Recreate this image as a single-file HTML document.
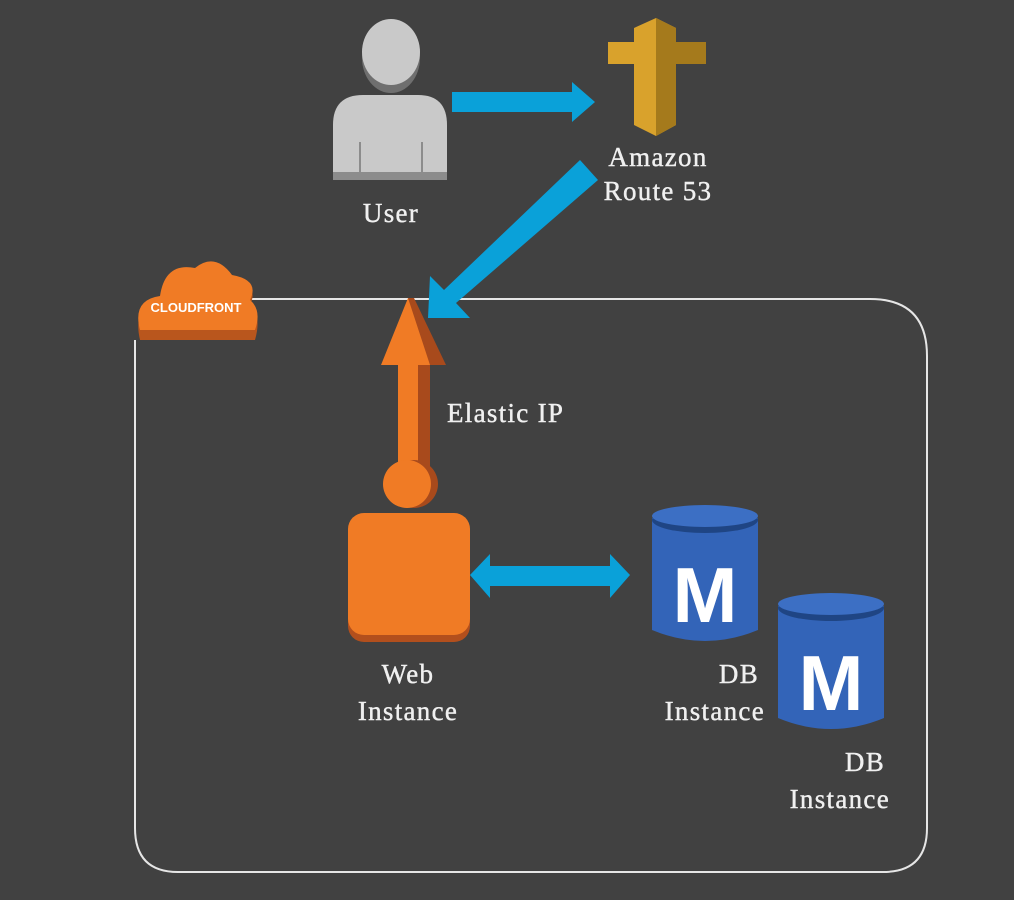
<!DOCTYPE html>
<html><head><style>html,body{margin:0;padding:0;background:#414141;}svg{display:block}</style></head>
<body>
<svg width="1014" height="900" viewBox="0 0 1014 900" xmlns="http://www.w3.org/2000/svg">
<rect width="1014" height="900" fill="#414141"/>
<path d="M180 299 H870 Q927 299 927 356 V828 Q927 872 883 872 H178 Q135 872 135 828 V340" fill="none" stroke="#e6e6e6" stroke-width="2"/>
<!-- user -->
<ellipse cx="391" cy="58" rx="29" ry="35" fill="#6f6f6f"/>
<ellipse cx="391" cy="52" rx="29" ry="33" fill="#c9c9c9"/>
<path d="M333 180 V125 Q333 95 363 95 H418 Q447 95 447 125 V180 Z" fill="#c9c9c9"/>
<rect x="333" y="172" width="114" height="8" fill="#8c8c8c"/>
<line x1="360" y1="142" x2="360" y2="180" stroke="#8c8c8c" stroke-width="2"/>
<line x1="422" y1="142" x2="422" y2="180" stroke="#8c8c8c" stroke-width="2"/>
<!-- route53 -->
<rect x="608" y="42" width="30" height="22" fill="#d9a22c"/>
<rect x="676" y="42" width="30" height="22" fill="#a57a1c"/>
<polygon points="634,28 656,18 676,28 676,125 656,136 634,125" fill="#d9a22c"/>
<polygon points="656,18 676,28 676,125 656,136" fill="#a57a1c"/>
<!-- blue arrows -->
<polygon points="452,92 572,92 572,82 595,102 572,122 572,112 452,112" fill="#0aa1d9"/>
<polygon points="580,160 598,180 456,303 470,318 428,318 430,276 444,290" fill="#0aa1d9"/>
<polygon points="470,575 490,554 490,566 610,566 610,554 630,575 610,598 610,586 490,586 490,598" fill="#0aa1d9"/>
<!-- orange elastic IP -->
<polygon points="408,298 414,298 446,365 430,365 430,470 415,470" fill="#a84a1c"/>
<polygon points="408,298 430,365 418,365 418,470 398,470 398,365 381,365" fill="#f07b25"/>
<circle cx="414" cy="484" r="24" fill="#a84a1c"/>
<circle cx="407" cy="484" r="24" fill="#f07b25"/>
<rect x="348" y="518" width="122" height="124" rx="16" fill="#b24f1d"/>
<rect x="348" y="513" width="122" height="122" rx="16" fill="#f07b25"/>
<!-- cloudfront -->
<g fill="#b9561d" transform="translate(0,5)">
<path d="M140 335 Q132 300 160 296 Q165 262 195 268 Q215 252 232 275 Q260 280 250 300 Q262 310 255 335 Z"/></g>
<path d="M140 330 Q132 300 160 296 Q165 262 195 268 Q215 252 232 275 Q260 280 250 300 Q262 310 255 330 Z" fill="#f07b25"/>
<text x="196" y="312" fill="#fff" font-family="Liberation Sans,sans-serif" font-weight="bold" font-size="13" text-anchor="middle">CLOUDFRONT</text>
<!-- DB -->
<g id="db">
<path d="M652 518 V630 Q705 652 758 630 V518 Z" fill="#3364b8"/>
<ellipse cx="705" cy="520" rx="53" ry="13" fill="#1f4584"/>
<ellipse cx="705" cy="516" rx="53" ry="11" fill="#3c6fc4"/>
<text x="705" y="622" fill="#fff" font-family="Liberation Sans,sans-serif" font-weight="bold" font-size="78" text-anchor="middle">M</text>
</g>
<use href="#db" transform="translate(126,88)"/>
<!-- labels -->
<g font-family="Liberation Serif,serif" fill="#f0f0f0" font-size="27" letter-spacing="1.3" stroke="#f0f0f0" stroke-width="0.4">
<text x="391" y="222" text-anchor="middle">User</text>
<text x="658" y="166" text-anchor="middle">Amazon</text>
<text x="658" y="200" text-anchor="middle">Route 53</text>
<text x="447" y="422">Elastic IP</text>
<text x="408" y="683" text-anchor="middle">Web</text>
<text x="408" y="720" text-anchor="middle">Instance</text>
<text x="759" y="683" text-anchor="end">DB</text>
<text x="765" y="720" text-anchor="end">Instance</text>
<text x="885" y="771" text-anchor="end">DB</text>
<text x="890" y="808" text-anchor="end">Instance</text>
</g>
</svg>
</body></html>
